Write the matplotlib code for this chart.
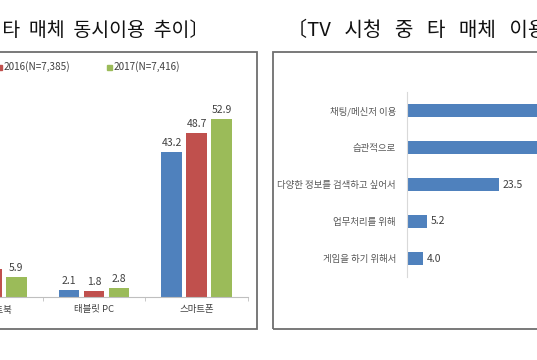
import matplotlib
matplotlib.use("Agg")
import matplotlib.pyplot as plt
from matplotlib.patches import Rectangle
import numpy as np

plt.rcParams['font.family'] = ['Noto Sans CJK KR', 'DejaVu Sans']

W, H = 537, 360

# left chart: TV 시청 중 타 매체 동시이용 추이
left_title = '〔TV  시청  중  타  매체  동시이용  추이〕'
devices = ['PC/노트북', '태블릿 PC', '스마트폰']
years = ['2015', '2016(N=7,385)', '2017(N=7,416)']
v2015 = [7.4, 2.1, 43.2]
v2016 = [8.3, 1.8, 48.7]
v2017 = [5.9, 2.8, 52.9]
year_colors = ['#4F81BD', '#C0504D', '#9BBB59']

# right chart: TV 시청 중 타 매체 이용 이유
right_title = '〔TV   시청   중   타   매체   이용   이유〕'
reasons = ['채팅/메신저 이용', '습관적으로', '다양한 정보를 검색하고 싶어서',
           '업무처리를 위해', '게임을 하기 위해서']
reason_vals = [59.8, 47.6, 23.5, 5.2, 4.0]


def fx(x):
    return x / W


def fy(y):
    return 1 - y / H


fig = plt.figure(figsize=(W / 100, H / 100), dpi=100)
fig.patch.set_facecolor('white')

# panel frames
for x0, x1 in [(-20, 257), (273, 570)]:
    fig.patches.append(Rectangle((fx(x0), fy(329)), fx(x1 - x0), (329 - 52) / H,
                                 transform=fig.transFigure, fill=False,
                                 edgecolor='#6e6e6e', linewidth=1.3))

fig.text(fx(209), fy(30), left_title, ha='right', va='center', fontsize=14, color='#111111')
fig.text(fx(287), fy(30), right_title, ha='left', va='center', fontsize=14.5, color='#111111')

# ---- left grouped bars
ax1 = fig.add_axes([fx(-60), 63 / H, 308 / W, 202 / H])
x = np.arange(len(devices))
pitch, bw = 0.243, 0.2
for i, (vals, c) in enumerate(zip([v2015, v2016, v2017], year_colors)):
    pos = x + (i - 1) * pitch
    ax1.bar(pos, vals, width=bw, color=c)
    for p, v in zip(pos, vals):
        ax1.text(p, v + 1.2, f'{v:.1f}', ha='center', va='bottom', fontsize=7.5, color='#404040')
ax1.set_xlim(-0.5, 2.5)
ax1.set_ylim(0, 60)
ax1.set_xticks(x)
ax1.set_xticklabels(devices, fontsize=6.8, color='#404040')
ax1.set_xticks([0.5, 1.5, 2.5], minor=True)
ax1.tick_params(axis='x', which='major', length=0, pad=6)
ax1.tick_params(axis='x', which='minor', length=3, color='#BFBFBF')
ax1.set_yticks([])
for s in ['top', 'left', 'right']:
    ax1.spines[s].set_visible(False)
ax1.spines['bottom'].set_color('#BFBFBF')
ax1.patch.set_alpha(0)

# legend
for i, (lab, c) in enumerate(zip(years, year_colors)):
    sx = -3 + (i - 1) * 110
    fig.patches.append(Rectangle((fx(sx), fy(70)), fx(5), 5 / H,
                                 transform=fig.transFigure, color=c))
    fig.text(fx(sx + 7), fy(67), lab, ha='left', va='center', fontsize=7.2, color='#404040')

# ---- right horizontal bars
ax2 = fig.add_axes([fx(407), 83 / H, 234 / W, 185 / H])
y = np.arange(len(reasons))
ax2.barh(y, reason_vals, height=0.35, color='#4F81BD')
for yy, v in zip(y, reason_vals):
    ax2.text(v + 1.0, yy, f'{v:.1f}', ha='left', va='center', fontsize=7.5, color='#404040')
ax2.set_xlim(0, 60)
ax2.set_ylim(4.5, -0.5)
ax2.set_yticks(y)
ax2.set_yticklabels(reasons, fontsize=6.8, color='#595959')
ax2.tick_params(axis='y', length=0, pad=8)
ax2.set_xticks([])
for s in ['top', 'bottom', 'right']:
    ax2.spines[s].set_visible(False)
ax2.spines['left'].set_color('#D9D9D9')
ax2.patch.set_alpha(0)

fig.savefig('out.png', dpi=100)
